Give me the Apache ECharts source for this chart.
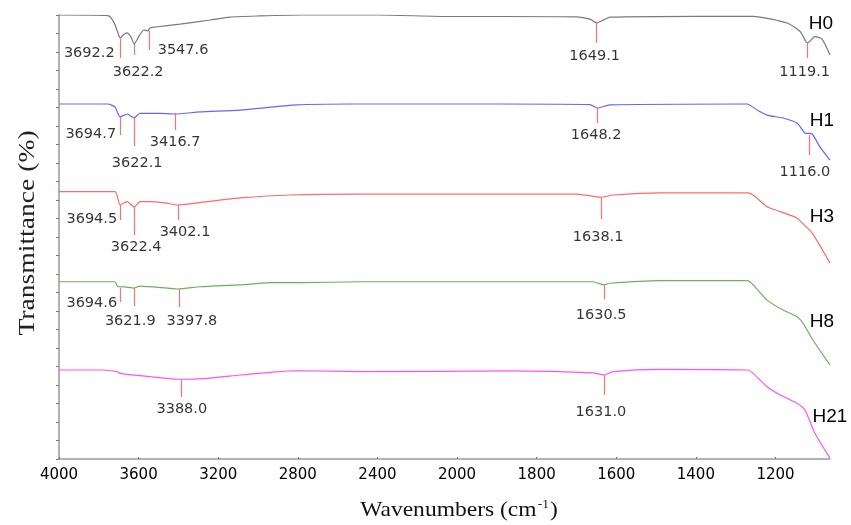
<!DOCTYPE html>
<html>
<head>
<meta charset="utf-8">
<script src="https://cdn.jsdelivr.net/npm/echarts@6/dist/echarts.min.js"></script>
<style>html,body{margin:0;padding:0;background:#fff;}#c{width:851px;height:525px;}</style>
</head>
<body>
<div id="c"></div>
<script>
// x tick labels (wavenumber, cm-1); axis scale changes at 2000 cm-1
const tickLabels = ['4000','3600','3200','2800','2400','2000','1800','1600','1400','1200'];
const seriesNames = ['H0','H1','H3','H8','H21'];

// spectra: [wavenumber, offset transmittance]
const specH0 = [[4000,24.0],[3754,23.97],[3724,23.6],[3698,22.86],[3692,22.76],[3678,22.92],[3658,23.03],[3638,22.81],[3622,22.43],[3598,22.86],[3573,23.19],[3553,23.14],[3543,23.30],[3518,23.35],[3392,23.51],[3241,23.73],[3141,23.89],[2990,23.95],[2789,24.0],[2400,24.0],[2035,23.92],[1892,23.92],[1700,23.9],[1666,23.78],[1649,23.57],[1630,23.75],[1616,23.88],[1400,23.93],[1256,23.93],[1171,23.57],[1138,23.11],[1123,22.54],[1119,22.5],[1101,22.83],[1083,22.70],[1063,21.84]];
const specH1 = [[4000,19.19],[3754,19.19],[3719,19.03],[3693,18.49],[3658,18.65],[3623,18.43],[3593,18.69],[3492,18.68],[3417,18.65],[3291,18.76],[3090,18.86],[2804,19.14],[2538,19.19],[1892,19.19],[1666,19.16],[1648,18.97],[1616,19.14],[1271,19.19],[1246,18.86],[1221,18.59],[1181,18.43],[1146,18.16],[1126,17.62],[1108,17.57],[1088,16.86],[1063,16.16]];
const specH3 = [[4000,14.45],[3719,14.45],[3693,13.73],[3658,13.91],[3622,13.62],[3593,13.91],[3543,13.91],[3467,13.84],[3402,13.73],[3256,13.91],[3090,14.11],[2839,14.27],[2472,14.32],[1867,14.32],[1698,14.32],[1638,14.15],[1608,14.27],[1490,14.39],[1271,14.39],[1256,14.27],[1221,13.64],[1188,13.37],[1146,13.03],[1133,12.76],[1108,12.22],[1063,10.59]];
const specH8 = [[4000,9.58],[3719,9.58],[3704,9.31],[3668,9.30],[3623,9.24],[3593,9.35],[3457,9.24],[3402,9.19],[3291,9.31],[3090,9.41],[2925,9.53],[2789,9.53],[2472,9.58],[1867,9.58],[1658,9.58],[1631,9.41],[1616,9.50],[1490,9.64],[1271,9.64],[1256,9.41],[1221,8.59],[1181,8.05],[1146,7.69],[1131,7.35],[1106,6.43],[1063,5.08]];
const specH21 = [[4000,4.81],[3779,4.81],[3709,4.72],[3693,4.63],[3543,4.45],[3388,4.31],[3256,4.36],[3090,4.54],[2925,4.70],[2789,4.77],[2472,4.72],[1867,4.76],[1658,4.66],[1631,4.54],[1608,4.72],[1490,4.85],[1271,4.81],[1256,4.63],[1221,3.91],[1188,3.46],[1146,3.01],[1126,2.65],[1101,1.39],[1063,0.05]];

// peak markers: [wavenumber, marker top, marker bottom]
const peaksH0 = [[3692.2,22.70,21.68],[3622.2,22.43,21.84],[3547.6,23.14,22.11],[1649.1,23.57,22.49],[1119.1,22.49,21.68]];
const peaksH1 = [[3694.7,18.49,17.51],[3622.1,18.43,16.92],[3416.7,18.70,17.78],[1648.2,18.97,18.16],[1116.0,17.51,16.43]];
const peaksH3 = [[3694.5,13.73,12.92],[3622.4,13.62,12.11],[3402.1,13.73,12.92],[1638.1,14.11,12.97]];
const peaksH8 = [[3694.6,9.24,8.49],[3621.9,9.24,8.27],[3397.8,9.19,8.22],[1630.5,9.41,8.63]];
const peaksH21 = [[3388.0,4.32,3.35],[1631.0,4.54,3.46]];

// label offsets (px) relative to marker bottom
const offH0 = [[-31,-5],[4,17],[34,0],[-2,13],[-3,14]];
const offH1 = [[-29,-1],[3,17],[0,12],[-1,12],[-4,17]];
const offH3 = [[-28,-1],[2,12],[7,12],[-3,18]];
const offH8 = [[-28,1],[-4,15],[13,14],[-3,16]];
const offH21 = [[1,12],[-3,17]];

const colors = ['#7a7a7a','#6464ff','#ff6a6a','#6cb05c','#ff50ff'];
const markerColor = '#ff7070';

function toU(w){ return w >= 2000 ? (4000 - w) / 400 : 5 + (2000 - w) / 200; }

const specs = [specH0, specH1, specH3, specH8, specH21];
const peaks = [peaksH0, peaksH1, peaksH3, peaksH8, peaksH21];
const offs = [offH0, offH1, offH3, offH8, offH21];

const series = [];
specs.forEach((s, i) => {
  series.push({
    name: seriesNames[i], type: 'line', symbol: 'none', smooth: 0.2,
    lineStyle: { color: colors[i], width: 1.2 },
    data: s.map(p => [toU(p[0]), p[1]]),
    markLine: {
      silent: true, symbol: ['none','none'], animation: false,
      lineStyle: { color: markerColor, type: 'solid', width: 1.2 },
      label: { show: false },
      data: peaks[i].map(p => [{ coord: [toU(p[0]), p[1]] }, { coord: [toU(p[0]), p[2]] }])
    }
  });
  series.push({
    type: 'scatter', symbolSize: 0, silent: true,
    data: peaks[i].map((p, j) => ({
      value: [toU(p[0]), p[2]],
      label: { offset: offs[i][j] }
    })),
    label: {
      show: true, position: 'inside',
      formatter: (d) => peaks[i][d.dataIndex][0].toFixed(1),
      fontFamily: 'DejaVu Sans', fontSize: 14.5, color: '#000'
    }
  });
});

const nameLabelPos = [[821,24],[822,121],[822,217],[822,322],[830,417]];

const chart = echarts.init(document.getElementById('c'), null, { renderer: 'canvas' });
chart.setOption({
  animation: false,
  backgroundColor: '#ffffff',
  grid: { left: 59, right: 21, top: 15, bottom: 66, containLabel: false },
  xAxis: {
    type: 'value', min: 0, max: toU(1063), interval: 1,
    axisLine: { show: true, lineStyle: { color: '#999', width: 1.5 } },
    axisTick: { show: true, inside: true, length: 2, lineStyle: { color: '#777' } },
    splitLine: { show: false },
    axisLabel: {
      margin: 9, fontFamily: 'DejaVu Sans', fontSize: 15, color: '#000',
      showMaxLabel: false,
      formatter: (v) => {
        const r = Math.round(v);
        return Math.abs(v - r) < 1e-6 && r < tickLabels.length ? tickLabels[r] : '';
      }
    }
  },
  yAxis: {
    type: 'value', min: 0, max: 24, interval: 1,
    axisLine: { show: true, lineStyle: { color: '#999', width: 1.5 } },
    axisTick: { show: true, inside: false, length: 3, lineStyle: { color: '#777' } },
    axisLabel: { show: false },
    splitLine: { show: false }
  },
  series: series,
  graphic: [
    ...seriesNames.map((n, i) => ({
      type: 'text', x: nameLabelPos[i][0], y: nameLabelPos[i][1],
      style: { text: n, fontFamily: 'Liberation Sans', fontSize: 19, fill: '#000', align: 'center', verticalAlign: 'middle' }
    })),
    {
      type: 'text', x: 459, y: 510, scaleX: 1.12,
      style: {
        text: '{a|Wavenumbers (cm}{s|-1}{a|)}', align: 'center', verticalAlign: 'middle',
        rich: {
          a: { fontFamily: 'Liberation Serif', fontSize: 21, fill: '#111' },
          s: { fontFamily: 'Liberation Serif', fontSize: 12, fill: '#111', verticalAlign: 'top', padding: [0,1,10,1] }
        }
      }
    },
    {
      type: 'text', x: 28, y: 233, rotation: Math.PI / 2, scaleX: 1.15,
      style: { text: 'Transmittance (%)', fontFamily: 'Liberation Serif', fontSize: 24, fill: '#222', align: 'center', verticalAlign: 'middle' }
    }
  ]
});
</script>
</body>
</html>
